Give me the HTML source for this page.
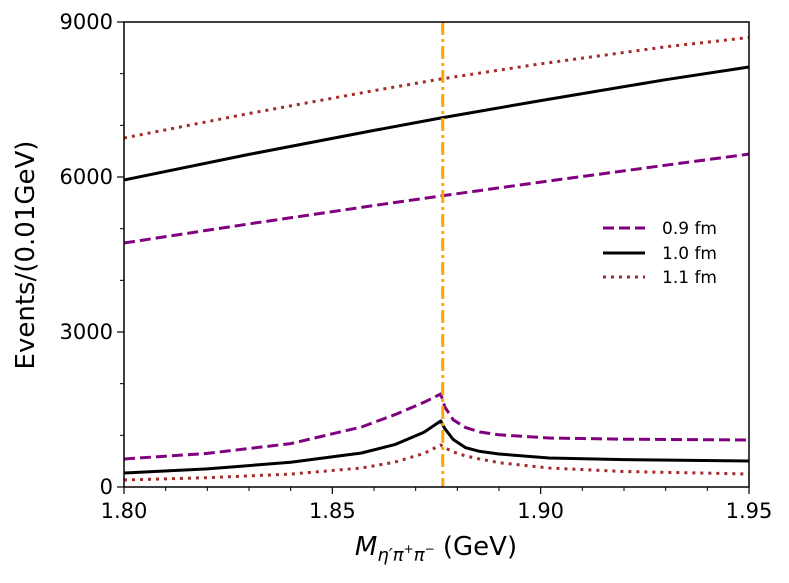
<!DOCTYPE html>
<html><head><meta charset="utf-8"><style>
body{margin:0;background:#fff}
svg text{font-family:"DejaVu Sans","Liberation Sans",sans-serif;fill:#000}
</style></head><body>
<svg id="chart" width="789" height="578" xmlns="http://www.w3.org/2000/svg">
<g id="marks"></g>
<g id="axes"></g>
<text x="34" y="255" font-size="26" text-anchor="middle" transform="rotate(-90 34 255)">Events/(0.01GeV)</text>
<text x="436" y="555" font-size="26" text-anchor="middle"><tspan font-style="italic">M</tspan><tspan font-size="18" dy="6" font-style="italic">η′π</tspan><tspan font-size="12" dy="-8">+</tspan><tspan font-size="18" dy="8" font-style="italic">π</tspan><tspan font-size="12" dy="-8">−</tspan><tspan dy="2">  (GeV)</tspan></text>
<g>
<line x1="603" y1="228" x2="645" y2="228" stroke="#800080" stroke-width="3" stroke-dasharray="11,5"/>
<text x="662" y="234" font-size="17">0.9 fm</text>
<line x1="603" y1="253" x2="645" y2="253" stroke="#000" stroke-width="3"/>
<text x="662" y="259" font-size="17">1.0 fm</text>
<line x1="603" y1="277" x2="645" y2="277" stroke="#a52a2a" stroke-width="3" stroke-dasharray="3,5"/>
<text x="662" y="283" font-size="17">1.1 fm</text>
</g>
</svg>
<script>
const xTicks=[1.80,1.85,1.90,1.95];
const xTickLabels=["1.80","1.85","1.90","1.95"];
const yTicks=[0,3000,6000,9000];
const yTickLabels=["0","3000","6000","9000"];
const threshold=1.8765;
const upperX=[1.80,1.83,1.86,1.876,1.90,1.93,1.95];
const up09=[4723,5092,5449,5633,5902,6229,6443];
const up10=[5942,6437,6902,7142,7478,7883,8129];
const up11=[6755,7229,7673,7897,8190,8520,8700];
const lowX=[1.80,1.82,1.84,1.857,1.865,1.872,1.876,1.877,1.879,1.882,1.8854,1.89,1.902,1.92,1.95];
const low09=[542,650,840,1161,1400,1640,1800,1550,1300,1150,1065,1010,948,925,910];
const low10=[271,350,480,658,820,1060,1277,1130,920,760,690,639,561,530,503];
const low11=[135,180,250,368,480,650,813,760,680,600,542,470,368,300,252];
const X0=124,X1=749,Y0=487,Y1=22;
const sx=v=>X0+(v-1.80)/(0.15)*(X1-X0);
const sy=v=>Y0-(v/9000)*(Y0-Y1);
const NS="http://www.w3.org/2000/svg";
const marks=document.getElementById('marks'),axes=document.getElementById('axes');
function mk(tag,attrs,parent){const e=document.createElementNS(NS,tag);for(const k in attrs)e.setAttribute(k,attrs[k]);parent.appendChild(e);return e;}
function line(xs,ys,color,dash,name){
  const d=xs.map((x,i)=>(i?'L':'M')+sx(x).toFixed(1)+','+sy(ys[i]).toFixed(1)).join('');
  const p=mk('path',{d:d,fill:'none',stroke:color,'stroke-width':3,'stroke-dasharray':dash,'stroke-linejoin':'round'},marks);
  
  
}
line(upperX,up09,'#800080','11,5','series-0.9fm-upper');
line(upperX,up10,'#000','none','series-1.0fm-upper');
line(upperX,up11,'#a52a2a','3,5','series-1.1fm-upper');
line(lowX,low09,'#800080','11,5','series-0.9fm-lower');
line(lowX,low10,'#000','none','series-1.0fm-lower');
line(lowX,low11,'#a52a2a','3,5','series-1.1fm-lower');
const th=mk('line',{x1:sx(threshold),x2:sx(threshold),y1:Y1,y2:Y0,stroke:'#ffa500','stroke-width':3,'stroke-dasharray':'13,4,3,4'},marks);


const fr=mk('rect',{x:X0,y:Y1,width:X1-X0,height:Y0-Y1,fill:'none',stroke:'#000','stroke-width':1.5},axes);


xTicks.forEach((t,i)=>{
  mk('line',{x1:sx(t),x2:sx(t),y1:Y0,y2:Y0+7,stroke:'#000','stroke-width':1.2},axes);
  const tx=mk('text',{x:sx(t),y:Y0+31,'font-size':21,'text-anchor':'middle'},axes);
  tx.textContent=xTickLabels[i];
  
  
});
for(let v=1.81;v<1.95;v+=0.01){if(Math.abs((v-1.80)/0.05-Math.round((v-1.80)/0.05))>0.01)mk('line',{x1:sx(v),x2:sx(v),y1:Y0,y2:Y0+4,stroke:'#000','stroke-width':1},axes);}
yTicks.forEach((t,i)=>{
  mk('line',{x1:X0-7,x2:X0,y1:sy(t),y2:sy(t),stroke:'#000','stroke-width':1.2},axes);
  const tx=mk('text',{x:X0-11,y:sy(t)+7,'font-size':21,'text-anchor':'end'},axes);
  tx.textContent=yTickLabels[i];
  
  
});
for(let v=1000;v<9000;v+=1000){if(v%3000)mk('line',{x1:X0-4,x2:X0,y1:sy(v),y2:sy(v),stroke:'#000','stroke-width':1},axes);}
</script>
</body></html>
